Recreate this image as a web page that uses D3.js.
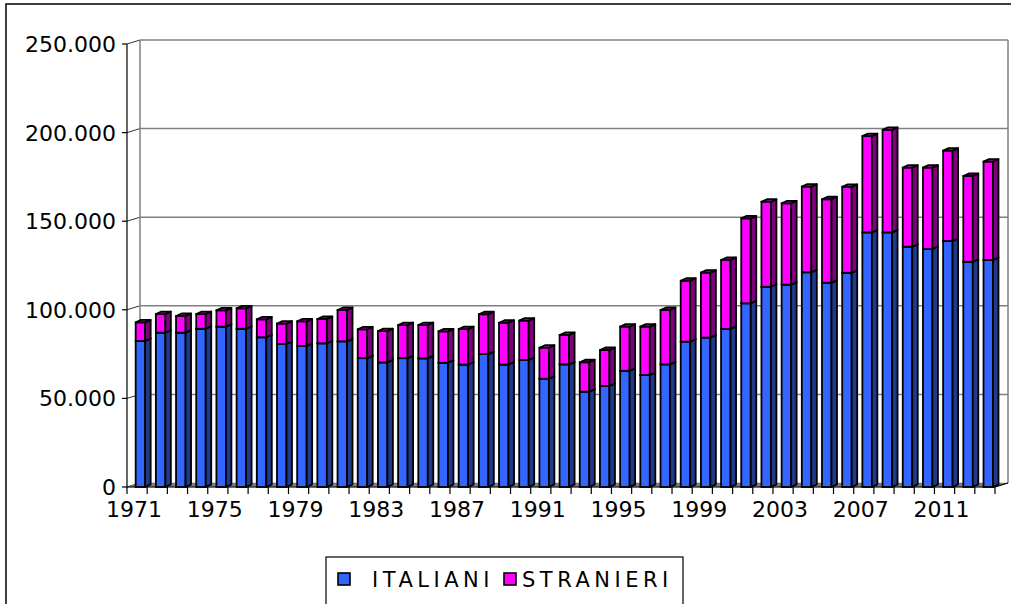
<!DOCTYPE html>
<html>
<head>
<meta charset="utf-8">
<script src="https://cdn.jsdelivr.net/npm/d3@7"></script>
<style>
  body { margin: 0; background: #fff; }
  svg { display: block; }
  text { font-family: "DejaVu Sans", Verdana, sans-serif; fill: #000; }
</style>
</head>
<body>
<div id="chart"></div>
<script>
// data
const years = d3.range(1971, 2014);
const italiani = [82400, 87100, 87100, 89300, 90500, 89300, 84500, 80700, 79600, 81100,
                  82200, 72700, 70300, 72700, 72600, 70100, 69100, 75000, 69100, 71700,
                  61100, 69200, 53800, 57000, 65600, 63200, 69200, 82000, 84300, 89200,
                  103700, 113000, 114200, 121200, 115300, 120900, 143700, 143700, 135600, 134300,
                  138800, 127100, 128100];
const stranieri = [10500, 10500, 9400, 8300, 9200, 11500, 10100, 11500, 13900, 13700,
                   17700, 16300, 17700, 18700, 18800, 17700, 20000, 22500, 23600, 22200,
                   17500, 16600, 16600, 20300, 24900, 27300, 30700, 34400, 36700, 38900,
                   47900, 48000, 45900, 48300, 47100, 48500, 54300, 57800, 44600, 45900,
                   51000, 48400, 55500];
const yTicks = [0, 50000, 100000, 150000, 200000, 250000];
const xLabelYears = d3.range(1971, 2014, 4);
const seriesNames = ["ITALIANI", "STRANIERI"];

const W = 1011, H = 604;
const pL = 127, pR = 995, pT = 44, pB = 487;
const dX = 13, dY = -4;        // depth of the walls
const bdX = 5.5, bdY = -2.5;   // depth of each bar

const svg = d3.select("#chart").append("svg").attr("width", W).attr("height", H);

// outer border (cropped on right/bottom)
svg.append("rect").attr("x", 6).attr("y", 4).attr("width", W + 20).attr("height", H + 20)
   .attr("fill", "none").attr("stroke", "#000").attr("stroke-width", 1.5);

const y = d3.scaleLinear().domain([0, 250000]).range([pB, pT]);
const x = d3.scaleBand().domain(years).range([pL, pR]);
const bw = x.bandwidth();
const itFmt = d3.formatLocale({decimal: ",", thousands: ".", grouping: [3], currency: ["", "€"]}).format(",");

// back wall gridlines
svg.append("g").selectAll("line").data(yTicks.filter(d => d > 0)).join("line")
   .attr("x1", pL + dX).attr("x2", pR + dX)
   .attr("y1", d => y(d) + dY).attr("y2", d => y(d) + dY)
   .attr("stroke", "#808080").attr("stroke-width", 1.5);
// side wall diagonals
svg.append("g").selectAll("line").data(yTicks).join("line")
   .attr("x1", pL).attr("x2", pL + dX)
   .attr("y1", d => y(d)).attr("y2", d => y(d) + dY)
   .attr("stroke", "#333").attr("stroke-width", 1);
// wall edges
svg.append("line").attr("x1", pL + dX).attr("x2", pL + dX)
   .attr("y1", y(250000) + dY).attr("y2", pB + dY)
   .attr("stroke", "#808080").attr("stroke-width", 1.5);
svg.append("line").attr("x1", pR + dX).attr("x2", pR + dX)
   .attr("y1", y(250000) + dY).attr("y2", pB + dY)
   .attr("stroke", "#808080").attr("stroke-width", 1.5);

// floor
svg.append("polygon")
   .attr("points", [[pL, pB], [pR, pB], [pR + dX, pB + dY], [pL + dX, pB + dY]].join(" "))
   .attr("fill", "#808080").attr("stroke", "#666").attr("stroke-width", 0.5);

// bars
const colors = [
  {front: "#3366FF", side: "#1F3A8C", top: "#2A4FC8"},
  {front: "#FF00FF", side: "#800080", top: "#B000B0"}
];
const rows = years.map((yr, i) => ({yr, segs: [[0, italiani[i]], [italiani[i], italiani[i] + stranieri[i]]]}));
const barG = svg.append("g").selectAll("g").data(rows).join("g");
barG.each(function(d) {
  const g = d3.select(this);
  const x0 = x(d.yr) + bw * 0.43, w = bw * 0.47;
  d.segs.forEach((s, k) => {
    const c = colors[k];
    const yb = y(s[0]), yt = y(s[1]);
    g.append("rect").attr("x", x0).attr("y", yt).attr("width", w).attr("height", yb - yt)
     .attr("fill", c.front).attr("stroke", "#000").attr("stroke-width", 1.8);
    g.append("polygon")
     .attr("points", [[x0 + w, yt], [x0 + w + bdX, yt + bdY], [x0 + w + bdX, yb + bdY], [x0 + w, yb]].join(" "))
     .attr("fill", c.side).attr("stroke", "#000").attr("stroke-width", 1.8).attr("stroke-linejoin", "round");
    g.append("polygon")
     .attr("points", [[x0, yt], [x0 + w, yt], [x0 + w + bdX, yt + bdY], [x0 + bdX, yt + bdY]].join(" "))
     .attr("fill", c.top).attr("stroke", "#000").attr("stroke-width", 1.8).attr("stroke-linejoin", "round");
  });
});

// y axis
const yAxis = svg.append("g");
yAxis.append("line").attr("x1", pL).attr("x2", pL).attr("y1", pT).attr("y2", pB)
     .attr("stroke", "#000").attr("stroke-width", 1.2);
yAxis.selectAll(".tk").data(yTicks).join("line")
     .attr("x1", pL - 5).attr("x2", pL).attr("y1", d => y(d)).attr("y2", d => y(d))
     .attr("stroke", "#000").attr("stroke-width", 1.2);
yAxis.selectAll("text").data(yTicks).join("text")
     .attr("x", 116).attr("y", d => y(d) + 8)
     .attr("text-anchor", "end").style("font-size", "22px")
     .text(d => itFmt(d));

// x axis
const xAxis = svg.append("g");
xAxis.append("line").attr("x1", pL).attr("x2", pR).attr("y1", pB).attr("y2", pB)
     .attr("stroke", "#000").attr("stroke-width", 1.2);
xAxis.append("line").attr("x1", pR).attr("x2", pR + dX).attr("y1", pB).attr("y2", pB + dY)
     .attr("stroke", "#000").attr("stroke-width", 1.2);
xAxis.selectAll(".tk").data(years.concat([null])).join("line")
     .attr("x1", (d, i) => pL + i * bw).attr("x2", (d, i) => pL + i * bw)
     .attr("y1", pB).attr("y2", pB + 7)
     .attr("stroke", "#000").attr("stroke-width", 1.2);
xAxis.selectAll("text").data(xLabelYears).join("text")
     .attr("x", d => x(d) + bw / 2 - 3).attr("y", 517)
     .attr("text-anchor", "middle").style("font-size", "22px")
     .text(d => d);

// legend
const lg = svg.append("g");
lg.append("rect").attr("x", 326).attr("y", 557).attr("width", 357).attr("height", 70)
  .attr("fill", "#fff").attr("stroke", "#000").attr("stroke-width", 1.2);
const legPos = [{sx: 338, tx: 372}, {sx: 504, tx: 522}];
seriesNames.forEach((n, i) => {
  lg.append("rect").attr("x", legPos[i].sx).attr("y", 573).attr("width", 12).attr("height", 12)
    .attr("fill", colors[i].front).attr("stroke", "#000").attr("stroke-width", 1.6);
  lg.append("text").attr("x", legPos[i].tx).attr("y", 587)
    .style("font-size", "21px").style("letter-spacing", "4.5px")
    .text(n);
});
</script>
</body>
</html>
